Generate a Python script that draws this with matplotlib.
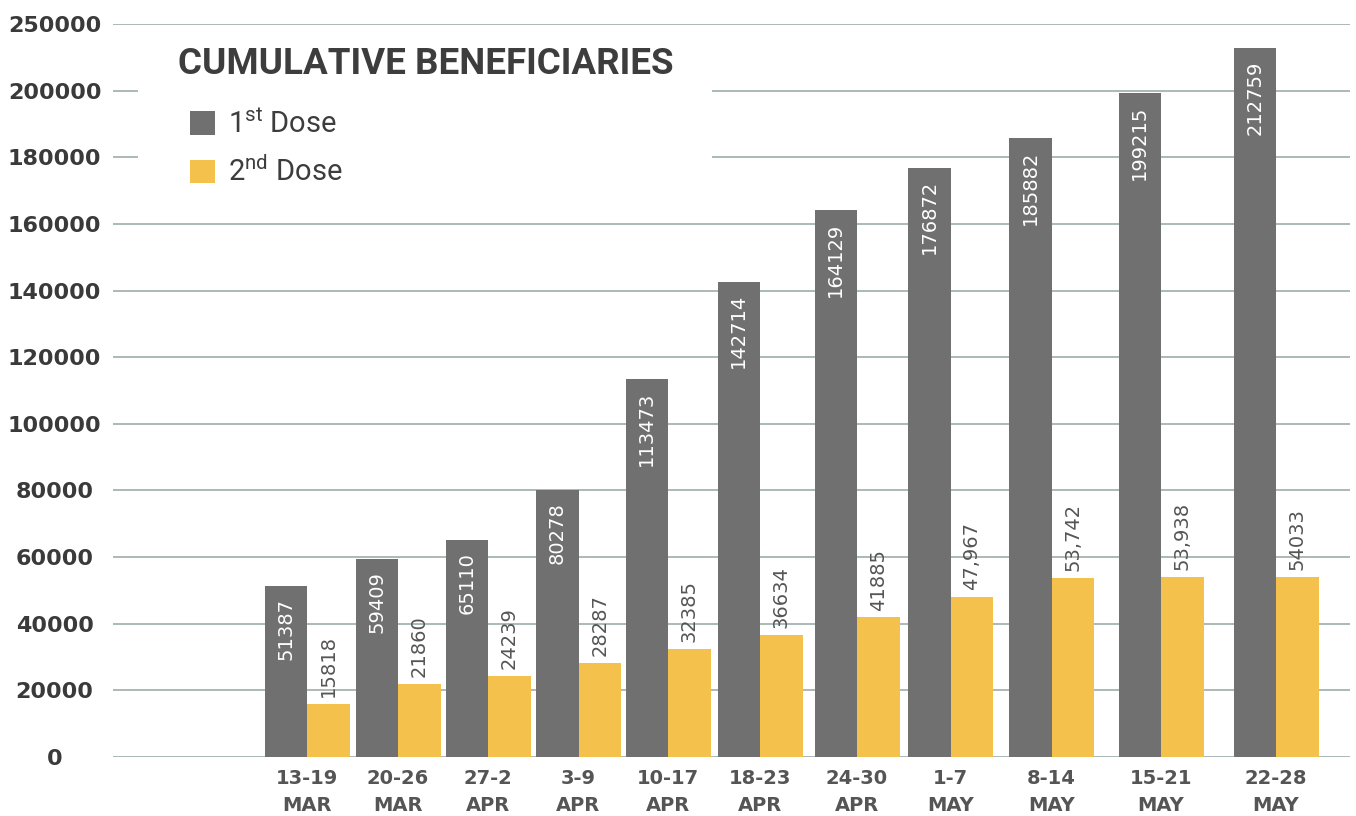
import matplotlib
matplotlib.use("Agg")
import matplotlib.pyplot as plt
import matplotlib.transforms as mtransforms
from matplotlib.patches import Rectangle, Patch

# data
weeks = ["13-19\nMAR", "20-26\nMAR", "27-2\nAPR", "3-9\nAPR", "10-17\nAPR", "18-23\nAPR",
         "24-30\nAPR", "1-7\nMAY", "8-14\nMAY", "15-21\nMAY", "22-28\nMAY"]
first_dose = [51387, 59409, 65110, 80278, 113473, 142714, 164129, 176872, 185882, 199215, 212759]
second_dose = [15818, 21860, 24239, 28287, 32385, 36634, 41885, 47967, 53742, 53938, 54033]
first_labels = ["51387", "59409", "65110", "80278", "113473", "142714", "164129",
                "176872", "185882", "199215", "212759"]
second_labels = ["15818", "21860", "24239", "28287", "32385", "36634", "41885",
                 "47,967", "53,742", "53,938", "54033"]
y_ticks = [0, 20000, 40000, 60000, 80000, 100000, 120000, 140000, 160000, 180000, 200000, 220000]
y_tick_labels = ["0", "20000", "40000", "60000", "80000", "100000", "120000", "140000",
                 "160000", "180000", "200000", "250000"]

# layout (group centres are unevenly spaced in the original)
group_pos = [307, 398, 488, 578.5, 668, 760, 857, 950.5, 1051.5, 1161, 1276]
bar_w = 42.5
dark = "#707070"
yellow = "#f4c24c"
grid_col = "#93a6a6"

plt.rcParams["mathtext.fontset"] = "custom"
plt.rcParams["mathtext.rm"] = "Roboto"

fig = plt.figure(figsize=(13.56, 8.16), dpi=100)
ax = fig.add_axes([113 / 1356, (816 - 757) / 816, (1350 - 113) / 1356, 733 / 816])
ax.set_xlim(113, 1350)
ax.set_ylim(0, 220000)

left = [p - bar_w for p in group_pos]
ax.bar(left, first_dose, width=bar_w, align="edge", color=dark, zorder=3)
ax.bar(group_pos, second_dose, width=bar_w, align="edge", color=yellow, zorder=3)

for p, v, lab in zip(group_pos, first_dose, first_labels):
    ax.annotate(lab, (p - bar_w / 2, v), xytext=(0, -9), textcoords="offset points",
                rotation=90, ha="center", va="top", color="white", fontsize=14,
                zorder=4)
for p, v, lab in zip(group_pos, second_dose, second_labels):
    ax.annotate(lab, (p + bar_w / 2, v), xytext=(0, 5), textcoords="offset points",
                rotation=90, ha="center", va="bottom", color="#555555", fontsize=14,
                zorder=4)

ax.set_yticks(y_ticks)
ax.set_yticklabels(y_tick_labels)
ax.set_xticks(group_pos)
ax.set_xticklabels(weeks)
ax.tick_params(axis="y", length=0, pad=42, labelsize=16, labelcolor="#3a3a3a")
ax.tick_params(axis="x", length=0, pad=9, labelsize=14, labelcolor="#555555")
for t in ax.get_yticklabels():
    t.set_horizontalalignment("center")
    t.set_fontweight("bold")
for t in ax.get_xticklabels():
    t.set_fontweight("bold")
    t.set_linespacing(1.5)

ax.yaxis.grid(True, color=grid_col, linewidth=1.1)
ax.set_axisbelow(True)
for s in ax.spines.values():
    s.set_visible(False)

# white panel behind the title and legend
trans = mtransforms.blended_transform_factory(ax.transAxes, ax.transData)
ax.add_patch(Rectangle(((138 - 113) / 1237, 167000), (712 - 138) / 1237, 48000,
                       transform=trans, facecolor="white", edgecolor="none", zorder=2))

fig.text(178 / 1356, 1 - 64 / 816, "CUMULATIVE BENEFICIARIES", ha="left", va="center",
         fontsize=26.5, fontweight="bold", family="Roboto", color="#3d3d3d")

handles = [Patch(facecolor=dark), Patch(facecolor=yellow)]
fig.legend(handles, ["1$^{\\mathrm{st}}$ Dose", "2$^{\\mathrm{nd}}$ Dose"],
           loc="upper left", bbox_to_anchor=(190 / 1356, 1 - 110 / 816),
           frameon=False, prop={"family": "Roboto", "size": 21},
           labelcolor="#3d3d3d", handlelength=0.85, handleheight=0.85,
           handletextpad=0.45, labelspacing=0.6, borderpad=0, borderaxespad=0)

fig.savefig("out.png", dpi=100)
